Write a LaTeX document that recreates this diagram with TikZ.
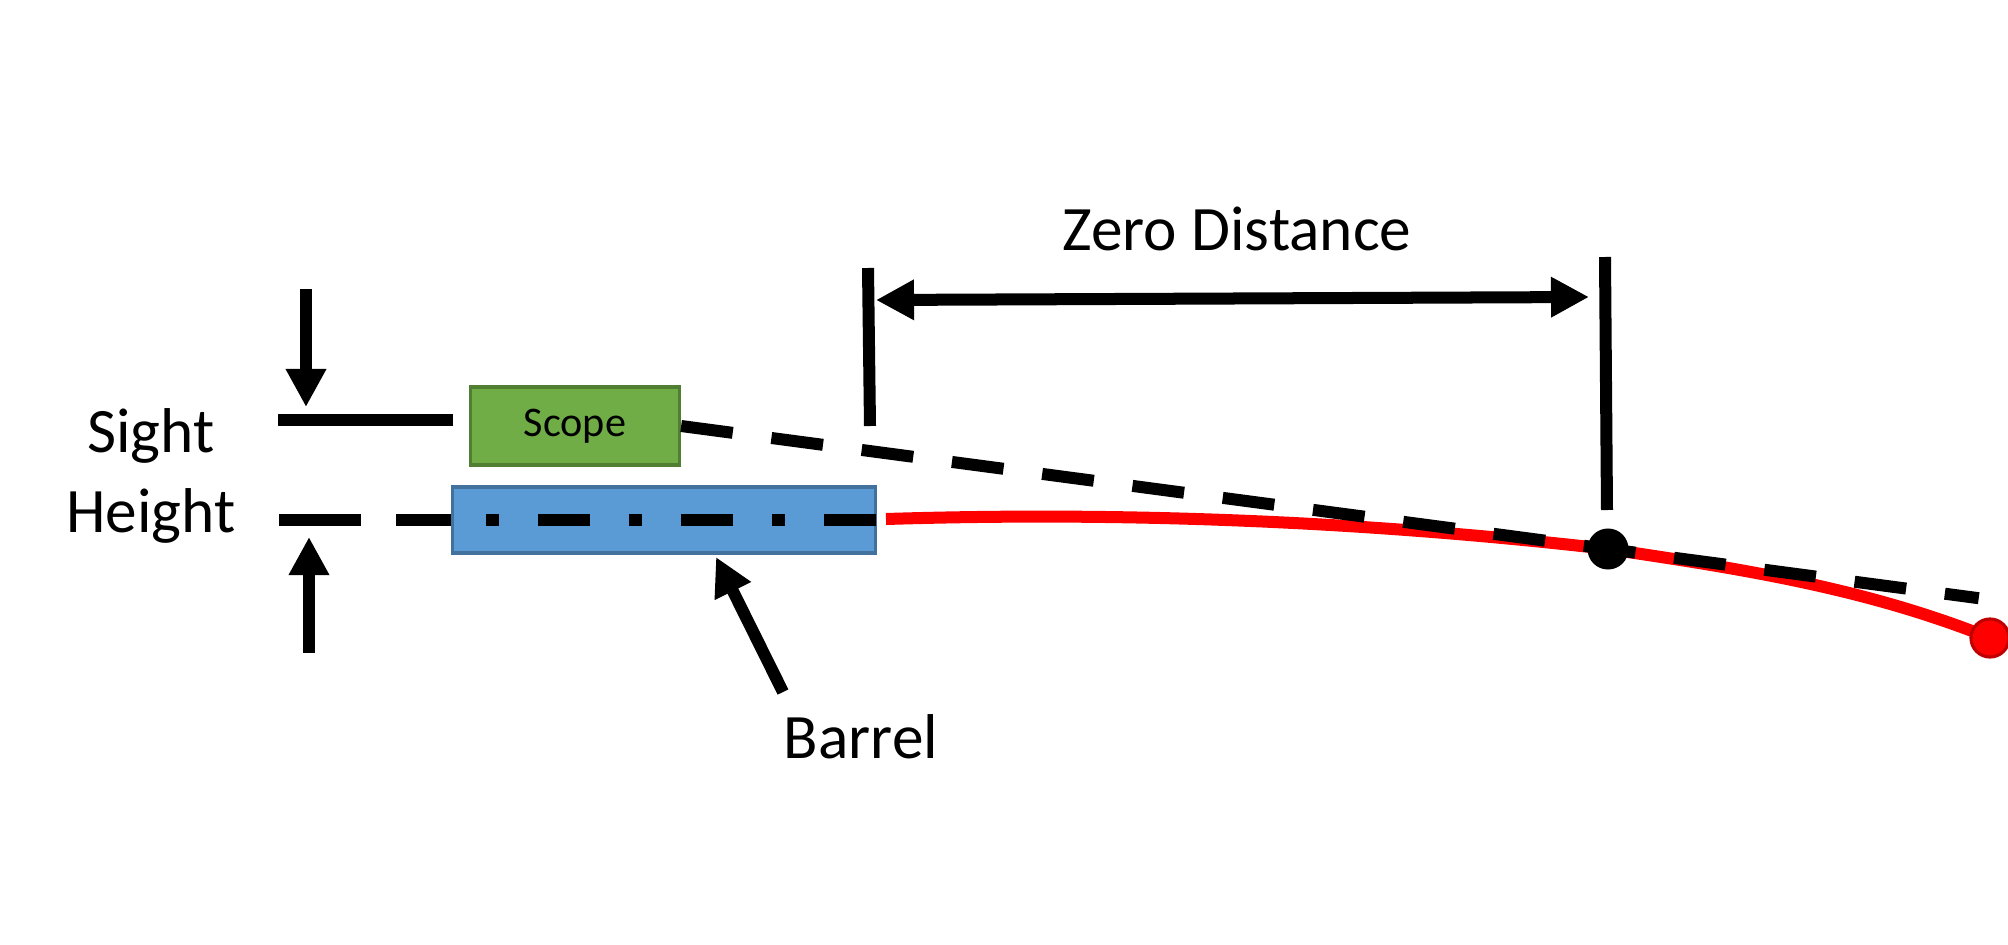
\documentclass[tikz,border=0pt]{standalone}
\usepackage{fontspec}
\setmainfont{Carlito}
\usepackage{xcolor}
\usetikzlibrary{positioning,calc,arrows.meta}
\definecolor{scopegreen}{HTML}{70AD47}
\definecolor{scopeedge}{HTML}{507E32}
\definecolor{barrelblue}{HTML}{5B9BD5}
\definecolor{barreledge}{HTML}{41719C}
\definecolor{impactedge}{HTML}{C00000}

\begin{document}
\begin{tikzpicture}[x=0.01cm, y=-0.01cm,
    thickline/.style={line width=0.12cm},
    bigtip/.style={-{Triangle[length=0.38cm,width=0.38cm]}},
    bigtext/.style={font=\fontsize{18pt}{22.5pt}\selectfont}]
    \useasboundingbox (0,0) rectangle (2008,945);
    % Boxes
    \node[draw=scopeedge, fill=scopegreen, line width=0.9pt, minimum width=2.09cm, minimum height=0.78cm, inner sep=0pt, font=\fontsize{12pt}{14pt}\selectfont] (scope) at (575,426) {Scope};
    \coordinate (heightL) at (279,520);
    \coordinate (heightR) at (451,520);
    \draw[thickline, dash pattern=on 0.82cm off 0.35cm] (heightL) -- (heightR);
    \node[draw=barreledge, fill=barrelblue, line width=0.9pt, minimum width=4.23cm, minimum height=0.66cm, inner sep=0pt] (barrel) at (664,520) {};
    \coordinate (boreL) at (486,520);
    \coordinate (boreR) at (876,520);
    \draw[thickline, dash pattern=on 0.13cm off 0.39cm on 0.52cm off 0.39cm] (boreL) -- (boreR);
    % Sight height
    \node[bigtext, align=center] (sight) at (151,476) {Sight\\Height};
    \coordinate (sightL) at (278,420);
    \coordinate (sightR) at (453,420);
    \draw[thickline] (sightL) -- (sightR);
    \coordinate (upTail) at (306,289);
    \coordinate (upTip) at (306,407);
    \draw[thickline, bigtip] (upTail) -- (upTip);
    \coordinate (downTail) at (309,653);
    \coordinate (downTip) at (309,537);
    \draw[thickline, bigtip] (downTail) -- (downTip);
    % Trajectory
    \coordinate (muzzle) at (886,519);
    \coordinate (zeropt) at (1608,549);
    \coordinate (impactpt) at (1990,638);
    \draw[red, line width=0.12cm] (muzzle) .. controls (1127,511.5) and (1367,521.4) .. (zeropt)
        .. controls (1735,568) and (1863,587) .. (impactpt);
    % Line of sight
    \draw[thickline, dash pattern=on 0.52cm off 0.39cm] (scope.east) -- ($(scope.east)!1.4!(zeropt)$);
    \node[circle, fill=black, minimum size=0.41cm, inner sep=0pt] (zero) at (zeropt) {};
    \node[circle, fill=red, draw=impactedge, line width=0.9pt, minimum size=0.38cm, inner sep=0pt] (impact) at (impactpt) {};
    % Zero distance
    \coordinate (tickLtop) at (868,268);
    \coordinate (tickLbot) at (870,426);
    \coordinate (tickRtop) at (1605,257);
    \coordinate (tickRbot) at (1607,510);
    \draw[thickline] (tickLtop) -- (tickLbot);
    \draw[thickline] (tickRtop) -- (tickRbot);
    \coordinate (zdL) at (876,300);
    \coordinate (zdR) at (1589,297);
    \draw[thickline, {Triangle[length=0.38cm,width=0.38cm]}-{Triangle[length=0.38cm,width=0.38cm]}] (zdL) -- (zdR);
    \node[bigtext, anchor=base] (zdlabel) at (1237,250) {Zero Distance};
    % Barrel label
    \node[bigtext, anchor=base] (barrellabel) at (861,758) {Barrel};
    \coordinate (barrelTail) at (783,692);
    \coordinate (barrelTip) at (716,557);
    \draw[thickline, bigtip] (barrelTail) -- (barrelTip);
\end{tikzpicture}
\end{document}
